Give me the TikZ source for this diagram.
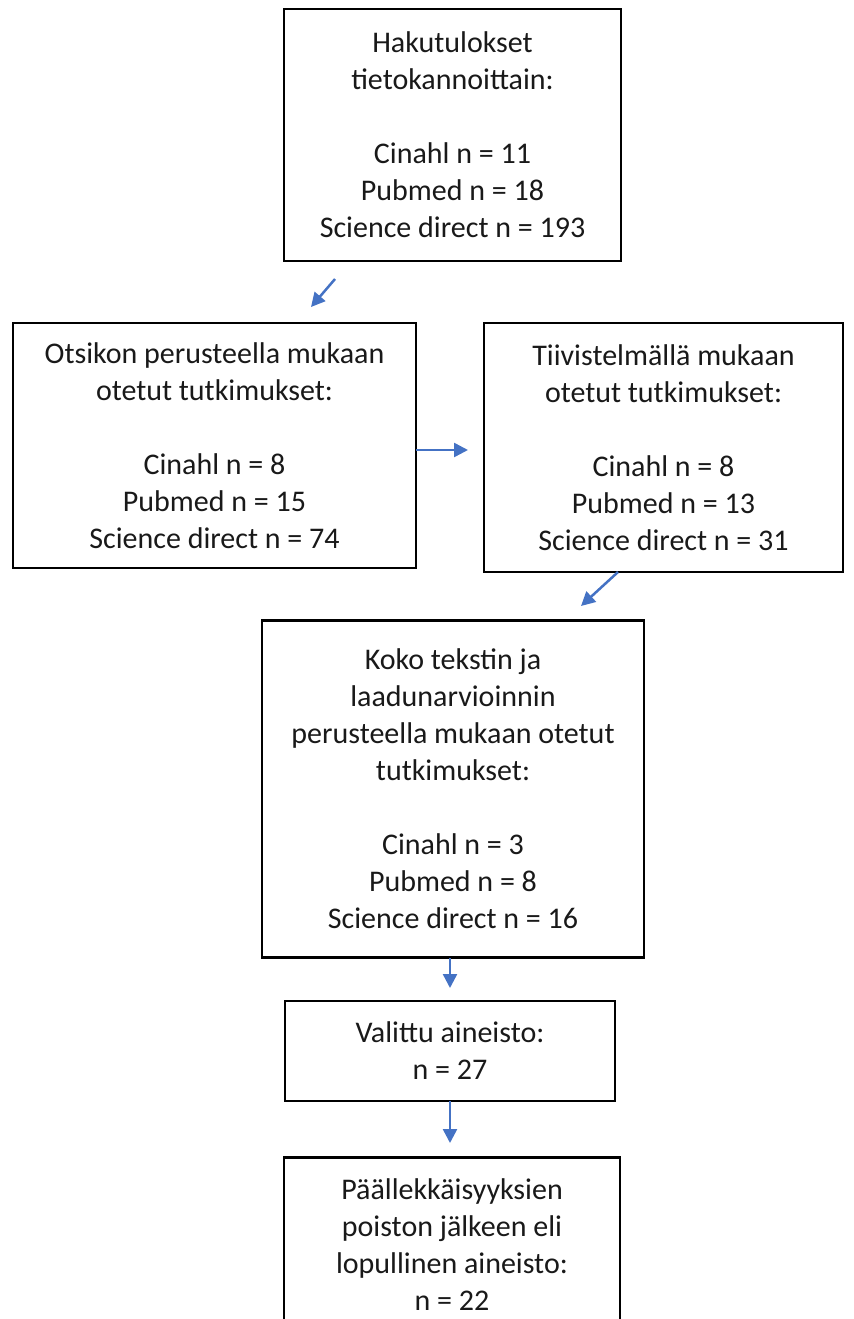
\documentclass[tikz,border=0pt]{standalone}
\usepackage{fontspec}
\setmainfont{Carlito}
\usetikzlibrary{arrows.meta}
\definecolor{arrowblue}{RGB}{68,114,196}
\definecolor{txt}{RGB}{25,25,25}
\tikzset{
  box/.style={draw=black, line width=2.8bp, rectangle, inner sep=0pt, align=center,
    text=txt, font=\fontsize{30bp}{37bp}\selectfont},
  conn/.style={draw=arrowblue, line width=2.5bp, -{Triangle[length=14bp,width=14bp]}}
}
\begin{document}
\begin{tikzpicture}[x=1bp,y=-1bp]
\useasboundingbox (0,0) rectangle (853,1319);
\clip (0,0) rectangle (853,1319);
\node[box, minimum width=337bp, minimum height=252bp] (b1) at (452.5,135)
  {Hakutulokset\\tietokannoittain:\\\mbox{}\\Cinahl n = 11\\Pubmed n = 18\\Science direct n = 193};
\node[box, minimum width=403bp, minimum height=245bp] (b2) at (214.5,445.5)
  {Otsikon perusteella mukaan\\otetut tutkimukset:\\\mbox{}\\Cinahl n = 8\\Pubmed n = 15\\Science direct n = 74};
\node[box, minimum width=359bp, minimum height=249bp] (b3) at (663.5,447.5)
  {Tiivistelmällä mukaan\\otetut tutkimukset:\\\mbox{}\\Cinahl n = 8\\Pubmed n = 13\\Science direct n = 31};
\node[box, minimum width=382bp, minimum height=337bp] (b4) at (453,789)
  {Koko tekstin ja\\laadunarvioinnin\\perusteella mukaan otetut\\tutkimukset:\\\mbox{}\\Cinahl n = 3\\Pubmed n = 8\\Science direct n = 16};
\node[box, minimum width=330bp, minimum height=100bp] (b5) at (450,1051)
  {Valittu aineisto:\\n = 27};
\node[box, minimum width=336bp, minimum height=175bp] (b6) at (452,1245)
  {Päällekkäisyyksien\\poiston jälkeen eli\\lopullinen aineisto:\\n = 22};
\coordinate (a1s) at (335,279);
\coordinate (a1e) at (311,307);
\coordinate (a2s) at (416,450);
\coordinate (a2e) at (468,450);
\coordinate (a3s) at (618,572);
\coordinate (a3e) at (581,606);
\coordinate (a4s) at (450,958);
\coordinate (a4e) at (450,988);
\coordinate (a5s) at (450,1101);
\coordinate (a5e) at (450,1143);
\draw[conn] (a1s) -- (a1e);
\draw[conn] (a2s) -- (a2e);
\draw[conn] (a3s) -- (a3e);
\draw[conn] (a4s) -- (a4e);
\draw[conn] (a5s) -- (a5e);
\end{tikzpicture}
\end{document}
